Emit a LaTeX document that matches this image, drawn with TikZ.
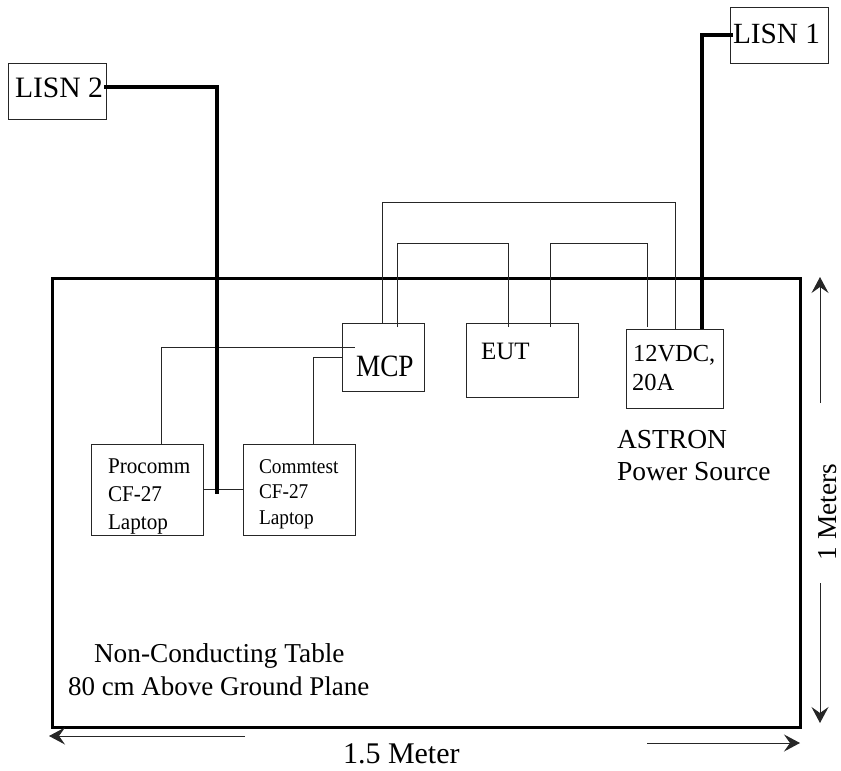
\documentclass[tikz,border=0pt]{standalone}
\usepackage{fontspec}
\setmainfont{Liberation Serif}
\usetikzlibrary{arrows.meta}
\tikzset{
  every node/.style={inner sep=0pt,outer sep=0pt},
  boxn/.style={draw=black!85,line width=1pt,rectangle},
  wire/.style={draw=black!85,line width=1pt},
  power/.style={draw=black,line width=4pt},
  dim/.style={draw=black!85,line width=1pt,-{Stealth[length=16pt,width=17pt,inset=6pt]}},
  txt/.style={anchor=base west,text=black},
}
\newcommand{\bx}[5]{\node[boxn,anchor=north west,minimum width=#4-#2 pt,minimum height=#5-#3 pt] (#1) at (#2,#3) {};}
\begin{document}
\begin{tikzpicture}[x=1pt,y=-1pt]
\useasboundingbox (0,0) rectangle (841,771);
% table
\node[draw=black,line width=3pt,anchor=north west,minimum width=748pt,minimum height=449pt] (tbl) at (52,278) {};
% boxes
\bx{lisnA}{730}{7}{828}{63}
\bx{lisnB}{8}{63}{106}{119}
\bx{mcp}{342}{323}{424}{391}
\bx{eut}{466}{323}{578}{397}
\bx{psu}{626}{329}{723}{408}
\bx{proc}{91}{444}{203}{535}
\bx{comm}{243}{444}{355}{535}
% box texts
\node[txt,font=\fontsize{29.3}{29.3}\selectfont] (tA) at (733,43) {LISN 1};
\node[txt,font=\fontsize{29.6}{29.6}\selectfont] (tB) at (15,97) {LISN 2};
\node[txt,font=\fontsize{31}{31}\selectfont,xscale=.88] (tM) at (356,376) {MCP};
\node[txt,font=\fontsize{25}{25}\selectfont] (tE) at (481,359) {EUT};
\node[txt,font=\fontsize{24.5}{24.5}\selectfont] (tP1) at (633,361) {12VDC,};
\node[txt,font=\fontsize{24.5}{24.5}\selectfont] (tP2) at (632,390) {20A};
\node[txt,font=\fontsize{22.5}{22.5}\selectfont,xscale=.94] (tC1) at (108,473) {Procomm};
\node[txt,font=\fontsize{22.5}{22.5}\selectfont,xscale=.94] (tC2) at (108,501) {CF-27};
\node[txt,font=\fontsize{22.5}{22.5}\selectfont,xscale=.94] (tC3) at (108,529) {Laptop};
\node[txt,font=\fontsize{21}{21}\selectfont,xscale=.92] (tD1) at (259,473) {Commtest};
\node[txt,font=\fontsize{21}{21}\selectfont,xscale=.92] (tD2) at (259,498) {CF-27};
\node[txt,font=\fontsize{21}{21}\selectfont,xscale=.92] (tD3) at (259,524) {Laptop};
% free labels
\node[txt,font=\fontsize{27.5}{27.5}\selectfont] (l1) at (617,448) {ASTRON};
\node[txt,font=\fontsize{27.5}{27.5}\selectfont] (l2) at (617,480) {Power Source};
\node[txt,font=\fontsize{27.3}{27.3}\selectfont] (l3) at (94,662) {Non-Conducting Table};
\node[txt,font=\fontsize{27}{27}\selectfont] (l4) at (68,695) {80 cm Above Ground Plane};
\node[txt,font=\fontsize{30}{30}\selectfont] (l5) at (343,763) {1.5 Meter};
\node[anchor=base west,rotate=90,font=\fontsize{27.3}{27.3}\selectfont] (l6) at (836,560) {1 Meters};
% connector end points
\coordinate (a1) at (382,323); \coordinate (a2) at (675,329);
\coordinate (b1) at (397,327); \coordinate (b2) at (508,327);
\coordinate (c1) at (550,327); \coordinate (c2) at (647,327);
\coordinate (d1) at (161,444); \coordinate (d2) at (355,347);
\coordinate (e1) at (313,444); \coordinate (e2) at (342,357);
\coordinate (f1) at (203,489); \coordinate (f2) at (243,489);
\coordinate (pA) at (733,35); \coordinate (pA2) at (702,329);
\coordinate (pB) at (104,87); \coordinate (pB2) at (217,494);
% thin wires
\draw[wire] (a1) -- ++(0,-121) -| (a2);
\draw[wire] (b1) -- ++(0,-84) -| (b2);
\draw[wire] (c1) -- ++(0,-84) -| (c2);
\draw[wire] (d1) |- (d2);
\draw[wire] (e1) |- (e2);
\draw[wire] (f1) -- (f2);
% power leads
\draw[power] (pA) -| (pA2);
\draw[power] (pB) -| (pB2);
% dimension arrows
\coordinate (w1) at (245,736); \coordinate (w2) at (49,736);
\coordinate (w3) at (647,743); \coordinate (w4) at (800,743);
\coordinate (h1) at (820,403); \coordinate (h2) at (820,277);
\coordinate (h3) at (820,583); \coordinate (h4) at (820,723);
\draw[dim] (w1) -- (w2);
\draw[dim] (w3) -- (w4);
\draw[dim] (h1) -- (h2);
\draw[dim] (h3) -- (h4);
\end{tikzpicture}
\end{document}
